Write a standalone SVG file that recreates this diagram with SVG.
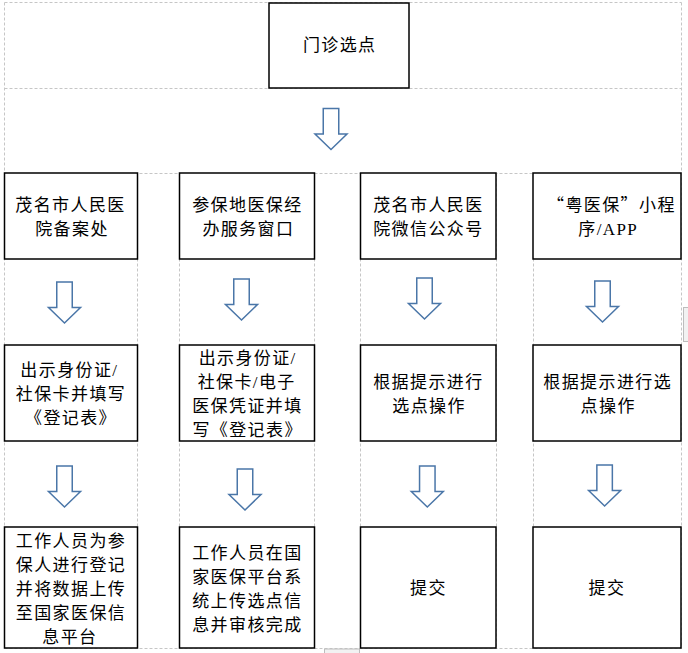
<svg xmlns="http://www.w3.org/2000/svg" width="688" height="653" viewBox="0 0 688 653">
<style>
.grid{stroke:#c6c6c6;stroke-width:1;stroke-dasharray:3 2;fill:none}
.box{fill:#fff;stroke:#000;stroke-width:1.5}
.arr{fill:#fff;stroke:#4a76a8;stroke-width:1.5;stroke-linejoin:miter}
.hdl{fill:#f2f2f2;stroke:#bdbdbd;stroke-width:1}
text{font-family:"Liberation Serif","Noto Sans CJK SC",serif;font-size:17px;letter-spacing:1.4px;text-anchor:middle;fill:#000}
.q{font-family:"Noto Sans CJK SC",sans-serif}
.st{text-anchor:start}
</style>
<defs>
<path id="arrow" d="M-7.75 0H7.75V25.5H16L0 41L-16 25.5H-7.75Z"/>
</defs>
<rect width="688" height="653" fill="#fff"/>
<g id="grid" class="grid">
<path d="M4.5 2.5H681.5M4.5 88.5H681.5M4.5 173.5H681.5M4.5 648.5H681.5M4.5 2.5V648.5M681.5 2.5V648.5M137.5 173.5V648.5M179.5 173.5V648.5M314.5 173.5V648.5M360.5 173.5V648.5M496.5 173.5V648.5M533.5 173.5V648.5"/>
</g>
<g id="artifacts">
<rect class="hdl" x="683.5" y="307.5" width="6" height="34"/>
<rect class="hdl" x="324.5" y="649" width="35" height="5"/>
</g>
<g id="connectors" class="arr">
<use href="#arrow" x="331" y="108.5"/>
<use href="#arrow" x="64.5" y="282"/>
<use href="#arrow" x="241.5" y="279"/>
<use href="#arrow" x="424.5" y="278"/>
<use href="#arrow" x="602.5" y="281"/>
<use href="#arrow" x="64.5" y="466"/>
<use href="#arrow" x="245" y="469"/>
<use href="#arrow" x="427.3" y="466"/>
<use href="#arrow" x="604.6" y="465"/>
</g>
<g id="n0"><rect class="box" x="269" y="3" width="140" height="85"/><text x="339.7" y="51">门诊选点</text></g>
<g id="n1a"><rect class="box" x="4.5" y="173" width="133" height="86"/><text x="70.5" y="211">茂名市人民医</text><text x="72" y="235">院备案处</text></g>
<g id="n1b"><rect class="box" x="179.5" y="173" width="135" height="86"/><text x="247.4" y="211">参保地医保经</text><text x="248.4" y="235">办服务窗口</text></g>
<g id="n1c"><rect class="box" x="360.5" y="173" width="135.5" height="86"/><text x="428.4" y="211">茂名市人民医</text><text x="428.4" y="235">院微信公众号</text></g>
<g id="n1d"><rect class="box" x="533" y="173" width="148" height="86"/><text x="611.4" y="211"><tspan class="q">“</tspan>粤医保<tspan class="q">”</tspan>小程</text><text x="608.2" y="235">序/APP</text></g>
<g id="n3a"><rect class="box" x="4.5" y="345" width="133" height="96"/><text x="69.4" y="376">出示身份证/</text><text x="71" y="400">社保卡并填写</text><text x="71" y="424">《登记表》</text></g>
<g id="n3b"><rect class="box" x="179.5" y="345" width="135" height="96"/><text x="247.7" y="364">出示身份证/</text><text x="246.7" y="388">社保卡/电子</text><text x="247.4" y="412">医保凭证并填</text><text class="st" x="192.4" y="436">写《登记表》</text></g>
<g id="n3c"><rect class="box" x="360.5" y="345" width="135.5" height="96"/><text x="428.4" y="388">根据提示进行</text><text x="429.1" y="412">选点操作</text></g>
<g id="n3d"><rect class="box" x="533" y="345" width="148" height="96"/><text x="607.7" y="388">根据提示进行选</text><text x="608.2" y="412">点操作</text></g>
<g id="n5a"><rect class="box" x="4.5" y="527" width="133" height="121"/><text x="71" y="547">工作人员为参</text><text x="71" y="571">保人进行登记</text><text x="71" y="595">并将数据上传</text><text x="71" y="619">至国家医保信</text><text x="69.9" y="643">息平台</text></g>
<g id="n5b"><rect class="box" x="179.5" y="527" width="135" height="121"/><text x="247.4" y="559">工作人员在国</text><text x="247.4" y="583">家医保平台系</text><text x="247.4" y="607">统上传选点信</text><text x="247.4" y="631">息并审核完成</text></g>
<g id="n5c"><rect class="box" x="360.5" y="527" width="135.5" height="121"/><text x="428.4" y="594">提交</text></g>
<g id="n5d"><rect class="box" x="533" y="527" width="148" height="121"/><text x="607" y="594">提交</text></g>
</svg>
